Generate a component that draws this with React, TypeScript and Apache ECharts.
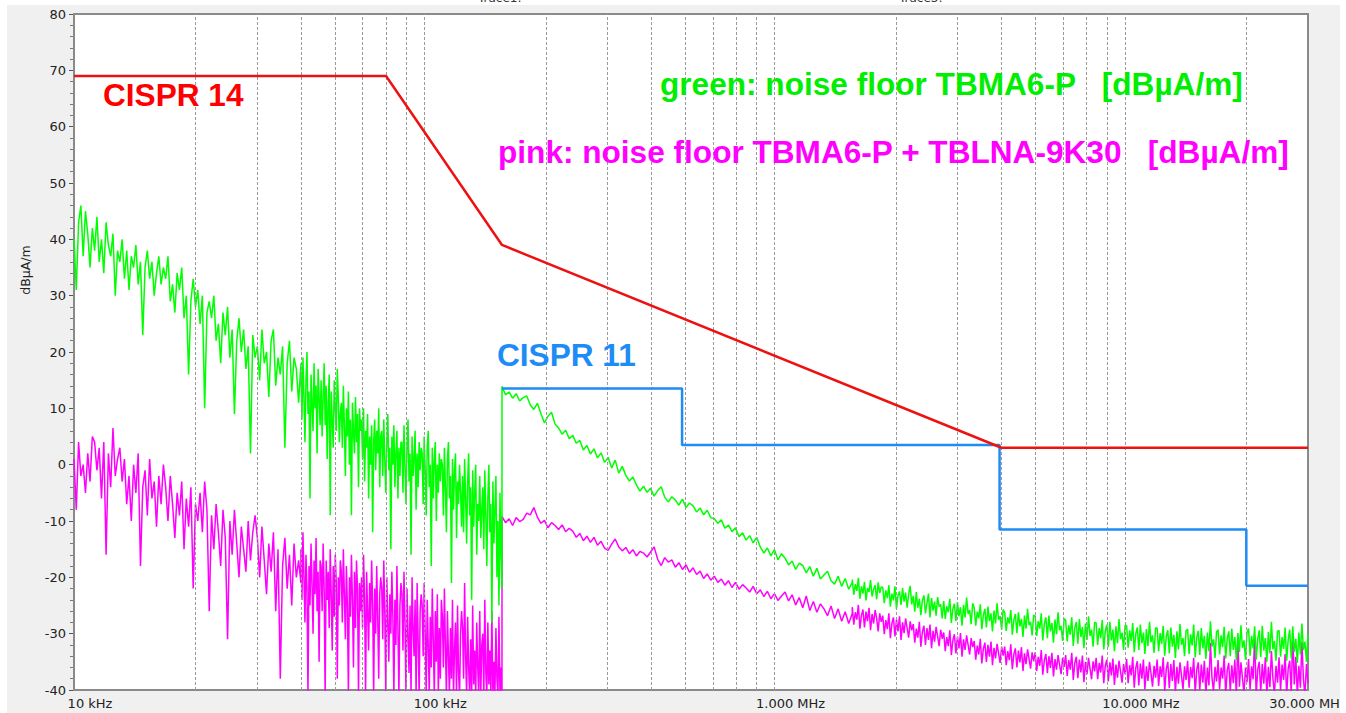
import React, { useEffect, useRef } from "react";
import * as echarts from "echarts";

// Analyzer sweeps (start/stop in Hz); the number of points is the length of each value list
const SWEEP_A1 = { startHz: 9000, stopHz: 40000 };
const SWEEP_A2 = { startHz: 40000, stopHz: 150000 };
const SWEEP_B1 = { startHz: 150000, stopHz: 1500000 };
const SWEEP_B2 = { startHz: 1500000, stopHz: 30000000 };

// green: noise floor TBMA6-P [dBµA/m]
const GREEN_A1 = [
  40, 31, 43, 46, 37, 45, 41, 35, 42, 38, 44, 36, 40, 34, 43, 39, 37, 41, 30, 38,
  36, 40, 33, 38, 31, 37, 35, 39, 32, 36, 23, 35, 38, 33, 36, 30, 34, 37, 32, 35,
  33, 37, 29, 32, 27, 34, 31, 35, 26, 30, 16, 29, 33, 28, 31, 25, 30, 10, 27, 29,
  26, 30, 22, 25, 18, 27, 23, 28, 19, 24, 9, 22, 26, 20, 24, 17, 21, 2, 23, 19,
  21, 15, 24, 18, 20, 12, 22, 24, 14, 19, 16, 21, 3, 18, 22, 13, 19, 17, 11, 18,
];
const GREEN_A2 = [
  17, 8, 19, 12, 4, 15, 20, 9, 13, -6, 16, 11, 6, 18, 10, 14, 2, 17, 12, 7,
  15, 5, 12, 18, 7, 14, 1, 11, 16, -9, 13, 8, 3, 15, 10, 6, 17, 12, 4, 9,
  11, 3, 14, 7, -2, 10, 5, 13, 0, 8, -9, 11, 6, 2, 12, 4, 9, -4, 10, 6,
  8, 1, 10, -3, 6, 3, 9, -6, 5, 0, 7, -12, 4, 8, -1, 6, 2, 10, -4, 5,
  6, -2, 8, 1, -5, 4, 9, -1, 3, -15, 5, 0, 7, -4, 2, 6, -6, 3, -2, 4,
  4, -5, 7, 0, -7, 3, 8, -3, 2, -16, 5, -2, 1, 6, -8, 2, -4, 4, -1, 3,
  2, -7, 5, -1, -9, 3, 6, -4, 0, -18, 3, -6, 1, 4, -10, 0, -5, 2, -3, 1,
  0, -9, 3, -4, -12, 1, 4, -6, -2, -21, 1, -8, -1, 2, -13, -3, -7, 0, -5, -11,
  -2, -12, 1, -6, -14, -3, 2, -9, -4, -24, -1, -11, -5, 0, -16, -7, -10, -2, -13, -8,
  -4, -15, -1, -9, -18, -6, 0, -12, -7, -28, -3, -14, -8, -2, -20, -10, -25, -5, -16, -22,
];
const GREEN_B1 = [
  13.9, 12.4, 12.9, 11.8, 12.6, 11.3, 11.9, 12.2, 10.6, 9.8, 10.9, 9.1, 7.4, 8.6, 9.3, 7.2, 6.5, 5.4, 6.1, 4.6,
  5.2, 3.8, 4.3, 2.6, 3.4, 1.9, 2.8, 1.2, 2.1, 0.4, 1.3, -0.6, 0.8, -1.5, -0.3, -1.9, -2.9, -2.2, -3.6, -4.7,
  -3.8, -4.9, -4.2, -5.6, -4.6, -3.9, -5.8, -6.6, -5.7, -6.3, -7.2, -6.1, -7.6, -6.8, -7.3, -8.4, -7.7, -8.9, -8.1, -9.4,
  -9.6, -10.4, -9.8, -11.3, -10.7, -11.9, -11.2, -12.8, -12.1, -13.4, -12.6, -13.9, -12.9, -14.6, -15.7, -14.8, -16.2, -15.1, -16.9, -15.8,
  -16.6, -17.8, -17.1, -18.6, -17.5, -17.9, -19.2, -18.1, -19.8, -18.4, -20.3, -19.6, -18.9, -20.6, -21.2, -19.8, -21.6, -20.2, -22.1, -20.9,
];
const GREEN_B2 = [
  -20.4, -23.1, -21.2, -22.4, -20.1, -23.8, -21.6, -22.9, -20.8, -24.1, -21.9, -22.6, -20.5, -23.4, -22.1, -21.4, -23.9, -20.9, -22.8, -21.7,
  -21.8, -24.6, -22.3, -23.7, -21.4, -25.2, -22.9, -24.1, -21.6, -25.6, -23.2, -22.5, -24.9, -21.9, -24.3, -22.7, -25.4, -23, -21.5, -24.8,
  -23.3, -26.1, -22.6, -25.4, -23.8, -26.7, -24.1, -23.2, -26.4, -24.6, -22.9, -27.1, -23.7, -25.9, -24.3, -26.8, -23.5, -25.2, -24.8, -27.3,
  -24.2, -27.4, -25.1, -26.2, -23.8, -28.1, -25.6, -24.7, -27.8, -24.4, -26.9, -25.3, -28.6, -24.9, -27.1, -23.6, -26.5, -25.8, -28.3, -24.6,
  -25.4, -28.6, -26.1, -27.3, -24.8, -29.2, -26.7, -25.6, -28.9, -25.2, -27.8, -26.4, -29.6, -25.9, -28.2, -24.6, -27.5, -26.9, -29.3, -25.7,
  -26.3, -29.5, -27.1, -28.2, -25.8, -30.2, -27.6, -26.5, -29.9, -26.2, -28.7, -27.4, -30.6, -26.8, -29.1, -25.6, -28.5, -27.9, -30.3, -26.7,
  -26.9, -30.4, -27.8, -29.1, -26.4, -31.2, -28.3, -27.1, -30.8, -26.8, -29.6, -28.1, -31.6, -27.5, -30.1, -26.2, -29.4, -28.6, -31.3, -27.3,
  -27.6, -31.4, -28.5, -30.2, -27.1, -32.2, -29, -27.9, -31.8, -27.4, -30.6, -28.8, -32.6, -28.2, -31.1, -26.9, -30.4, -29.3, -32.3, -28,
  -28.1, -32, -29, -30.8, -27.6, -32.8, -29.5, -28.4, -32.4, -27.9, -31.2, -29.3, -33.1, -28.7, -31.7, -27.4, -31, -29.8, -32.9, -28.5,
  -28.6, -32.5, -29.4, -31.3, -28.1, -33.3, -30, -28.9, -32.9, -28.4, -31.7, -29.8, -33.6, -29.2, -32.2, -27.9, -31.5, -30.3, -33.4, -29,
  -29, -33.1, -29.9, -31.8, -28.6, -33.9, -30.5, -29.4, -33.5, -28.9, -32.3, -30.2, -34.3, -29.6, -32.8, -28.3, -32, -30.8, -34, -29.5,
  -29.2, -33.6, -30.1, -32.1, -28.4, -34.2, -30.7, -29.5, -33.8, -29, -32.6, -30.4, -34.5, -29.8, -33.1, -27.8, -32.3, -31, -34.3, -29.7,
  -29.3, -33.7, -30.3, -32.4, -28.8, -34.4, -30.9, -29.6, -34, -29.1, -32.9, -30.6, -34.7, -29.9, -33.3, -28.5, -32.5, -31.2, -34.6, -29.8,
  -29.1, -33.9, -30.4, -32.6, -28.7, -34.6, -31, -29.4, -34.2, -28.6, -33, -30.8, -35, -29.7, -33.5, -27.9, -32.8, -31.3, -34.8, -29.6,
  -29.4, -34.1, -30.6, -32.7, -28.9, -34.8, -31.1, -29.3, -34.4, -28.7, -33.2, -30.9, -35.2, -29.8, -33.7, -28.2, -32.9, -31.4, -35, -30.1,
];

// pink: noise floor TBMA6-P + TBLNA-9K30 [dBµA/m]
const PINK_A1 = [
  1, -8, 4, -2, 0, -5, 2, -3, 5, 4, -1, 3, -6, 4, -16, 2, -4, 6.5, -2, 1,
  3, -3, 1, -7, -2, -10, 0, -5, 2, -18, -4, -1, -9, 1, -6, -3, -11, -2, -7, 0,
  -4, -10, -2, -7, -13, -5, -9, -3, -15, -6, -11, -4, -22, -7, -10, -5, -12, -3, -8, -26,
  -9, -15, -7, -12, -18, -8, -13, -31, -10, -16, -8, -14, -20, -11, -15, -19, -10, -17, -12, -9,
  -13, -20, -11, -17, -23, -14, -19, -12, -26, -15, -38, -18, -13, -22, -16, -25, -14, -20, -17, -21,
];
const PINK_A2 = [
  -15, -24, -12, -20, -28, -16, -22, -41, -18, -25, -14, -21, -30, -17, -23, -13, -26, -19, -35, -17,
  -18, -26, -14, -22, -41, -17, -24, -19, -29, -15, -23, -33, -18, -27, -16, -21, -38, -20, -25, -17,
  -19, -28, -15, -23, -31, -18, -25, -41, -20, -27, -16, -24, -36, -19, -29, -17, -22, -41, -21, -26,
  -20, -29, -16, -24, -41, -19, -26, -33, -21, -28, -17, -25, -41, -22, -30, -18, -27, -38, -23, -20,
  -22, -31, -17, -26, -41, -20, -28, -35, -23, -30, -19, -27, -41, -24, -32, -18, -29, -41, -25, -21,
  -23, -33, -19, -28, -41, -22, -30, -37, -25, -41, -20, -29, -34, -24, -41, -21, -31, -41, -26, -23,
  -25, -34, -21, -30, -41, -24, -32, -41, -27, -36, -22, -31, -41, -26, -35, -23, -41, -29, -38, -24,
  -27, -36, -22, -32, -41, -26, -34, -41, -29, -38, -24, -41, -33, -28, -41, -25, -37, -41, -30, -26,
  -29, -38, -21, -34, -41, -27, -36, -41, -31, -41, -25, -39, -33, -41, -28, -36, -41, -26, -41, -32,
  -30, -41, -24, -37, -41, -28, -39, -33, -41, -26, -41, -35, -41, -29, -38, -41, -27, -41, -36, -41,
];
const PINK_B1 = [
  -9.2, -10.3, -9.6, -10.8, -9.4, -10.1, -9.7, -8.6, -8.9, -7.6, -9.3, -10.4, -9.9, -11.2, -10.3, -10.8, -11.5, -10.7, -11.9, -11.3,
  -11.8, -12.9, -12.2, -13.5, -12.7, -13.8, -12.9, -14.3, -13.6, -14.8, -15.2, -14.1, -13.2, -14.6, -15.3, -14.7, -15.8, -15.1, -16.2, -15.4,
  -15.7, -16.4, -15.5, -14.6, -16.8, -17.9, -16.5, -17.3, -16.9, -18.2, -17.4, -18.6, -17.8, -19.1, -18.3, -19.5, -18.9, -20.2, -19.4, -20.5,
  -19.8, -20.9, -20.3, -21.4, -20.6, -21.8, -20.9, -22.1, -21.3, -21.9, -22.6, -21.6, -22.9, -22.2, -23.4, -22.5, -23.8, -22.9, -24.1, -23.3,
  -22.6, -24.2, -23.1, -24.9, -23.6, -25.4, -23.3, -25.9, -24.3, -26.2, -24.7, -25.6, -26.8, -25.1, -27.3, -25.6, -27.8, -26.1, -28.2, -26.4,
];
const PINK_B2 = [
  -25.3, -28.4, -26.2, -27.5, -24.9, -29.1, -26.8, -25.7, -28.9, -26.1, -27.8, -25.4, -29.4, -26.5, -28.2, -25.8, -27.3, -29.6, -26.4, -27.9,
  -26.8, -30.1, -27.6, -29.2, -26.4, -30.8, -28.2, -27.1, -30.5, -27.5, -29.6, -26.9, -31.1, -28, -29.9, -27.3, -29, -30.7, -27.8, -29.4,
  -28.3, -31.6, -29.1, -30.7, -27.9, -32.3, -29.7, -28.6, -32, -29, -31.1, -28.4, -32.6, -29.5, -31.4, -28.8, -30.5, -32.2, -29.3, -30.9,
  -29.8, -33.1, -30.6, -32.2, -29.4, -33.8, -31.2, -30.1, -33.5, -30.5, -32.6, -29.9, -34.1, -31, -32.9, -30.3, -32, -33.7, -30.8, -32.4,
  -31.3, -34.6, -32.1, -33.7, -30.9, -35.3, -32.7, -31.6, -35, -32, -34.1, -31.4, -35.6, -32.5, -34.4, -31.8, -33.5, -35.2, -32.3, -33.9,
  -32.3, -35.6, -33.1, -34.7, -31.9, -36.3, -33.7, -32.6, -36, -33, -35.1, -32.4, -36.6, -33.5, -35.4, -32.8, -34.5, -36.2, -33.3, -34.9,
  -33.3, -36.6, -34.1, -35.7, -32.9, -37.3, -34.7, -33.6, -37, -34, -36.1, -33.4, -37.6, -34.5, -36.4, -33.8, -35.5, -37.2, -34.3, -35.9,
  -33.8, -37.5, -34.7, -36.4, -33.4, -38.2, -35.2, -34.1, -37.9, -34.6, -36.9, -33.9, -38.6, -35, -37.2, -34.3, -36.2, -38.1, -34.9, -36.7,
  -34.3, -38.1, -35.2, -36.9, -33.9, -38.8, -35.7, -34.6, -38.5, -35.1, -37.4, -34.4, -39.1, -35.5, -37.8, -34.8, -36.7, -38.7, -35.4, -37.2,
  -34.5, -38.8, -35.6, -37.4, -34.1, -39.6, -36.1, -34.9, -39.2, -35.3, -38, -34.6, -39.9, -35.8, -38.4, -35, -37.1, -39.4, -35.7, -37.8,
  -34.6, -39.3, -35.8, -37.7, -34.2, -40.2, -36.3, -35, -39.7, -35.4, -38.4, -34.7, -40.5, -35.9, -38.9, -35.1, -37.5, -39.9, -35.8, -38.2,
  -34.8, -39.6, -35.9, -37.9, -34.3, -40.6, -36.4, -35.1, -40, -35.5, -38.7, -34.8, -40.8, -36, -39.2, -31.6, -37.8, -40.3, -35.9, -38.5,
  -34.7, -39.8, -36, -38, -33.9, -40.9, -36.5, -35.2, -40.2, -35.6, -38.8, -34.6, -41, -31.2, -39.4, -35.1, -37.9, -40.6, -36, -38.6,
  -34.5, -39.9, -35.8, -38.1, -30.4, -41, -36.4, -35, -40.4, -35.4, -38.9, -34.2, -41, -35.9, -39.5, -33.1, -38, -40.8, -35.7, -38.7,
  -34.2, -40.1, -35.5, -38.2, -33.6, -41, -36.2, -34.8, -40.6, -30.1, -39, -34.1, -41, -35.7, -39.6, -31.5, -38.1, -41, -35.4, -38.8,
];

// Limit lines
const CISPR14_FREQ = [9000, 70000, 150000, 4000000, 30000000];
const CISPR14_LIMIT = [69, 69, 39, 3, 3];
const CISPR11_FREQ = [150000, 490000, 490000, 3950000, 3950000, 20000000, 20000000, 30000000];
const CISPR11_LIMIT = [13.5, 13.5, 3.5, 3.5, -11.5, -11.5, -21.5, -21.5];

// Axis labels / grid
const X_TICK_FREQ = [10000, 100000, 1000000, 10000000, 30000000];
const X_TICK_LABELS = ["10 kHz", "100 kHz", "1.000 MHz", "10.000 MHz", "30.000 MHz"];
const MINOR_GRID_FREQ = [
  20000, 30000, 40000, 50000, 60000, 70000, 80000, 90000,
  200000, 300000, 400000, 500000, 600000, 700000, 800000, 900000,
  2000000, 3000000, 4000000, 5000000, 6000000, 7000000, 8000000, 9000000,
  20000000,
];

function sweepFreqs(start: number, stop: number, n: number) {
  const out: number[] = [];
  const r = Math.log10(stop / start);
  for (let i = 0; i < n; i++) out.push(start * Math.pow(10, (r * i) / (n - 1)));
  return out;
}

function zipTrace(sweep: { startHz: number; stopHz: number }, vals: number[]) {
  const f = sweepFreqs(sweep.startHz, sweep.stopHz, vals.length);
  return vals.map((v, i) => [f[i], v]);
}

export default function App() {
  const ref = useRef<HTMLDivElement>(null);
  useEffect(() => {
    if (!ref.current) return;
    const chart = echarts.init(ref.current, null, { renderer: "svg" });
    const green = [
      ...zipTrace(SWEEP_A1, GREEN_A1),
      ...zipTrace(SWEEP_A2, GREEN_A2),
      ...zipTrace(SWEEP_B1, GREEN_B1),
      ...zipTrace(SWEEP_B2, GREEN_B2),
    ];
    const pink = [
      ...zipTrace(SWEEP_A1, PINK_A1),
      ...zipTrace(SWEEP_A2, PINK_A2),
      ...zipTrace(SWEEP_B1, PINK_B1),
      ...zipTrace(SWEEP_B2, PINK_B2),
    ];
    const c14 = CISPR14_FREQ.map((f, i) => [f, CISPR14_LIMIT[i]]);
    const c11 = CISPR11_FREQ.map((f, i) => [f, CISPR11_LIMIT[i]]);
    const tickFont = "DejaVu Sans, Verdana, sans-serif";
    const bigFont = "bold 31.6px 'Liberation Sans', Arial, sans-serif";

    chart.setOption({
      animation: false,
      grid: {
        left: 74,
        top: 14,
        right: 32,
        bottom: 23,
        outerBoundsMode: "none",
        containLabel: false,
        show: true,
        backgroundColor: "#ffffff",
        borderColor: "#8a8a8a",
        borderWidth: 2,
        z: 1,
      },
      xAxis: {
        type: "log",
        logBase: 10,
        min: 9000,
        max: 30000000,
        axisLine: { show: true, lineStyle: { color: "#555", width: 2 } },
        axisTick: { show: true, length: 4, lineStyle: { color: "#555" } },
        axisLabel: {
          interval: 0,
          showMinLabel: true,
          showMaxLabel: true,
          color: "#222",
          fontFamily: tickFont,
          fontSize: 13,
          margin: 7,
          formatter: (v: number) => {
            const idx = X_TICK_FREQ.findIndex((f) => Math.abs(f - v) / f < 1e-3);
            return idx >= 0 ? X_TICK_LABELS[idx] : "";
          },
        },
        splitLine: { show: true, lineStyle: { color: "#9c9c9c", width: 1.5 } },
      },
      yAxis: {
        type: "value",
        min: -40,
        max: 80,
        interval: 10,
        axisLine: { show: true, lineStyle: { color: "#555", width: 2 } },
        axisTick: { show: true, length: 5, lineStyle: { color: "#555" } },
        minorTick: { show: true, splitNumber: 5, length: 4, lineStyle: { color: "#777" } },
        axisLabel: { color: "#222", fontFamily: tickFont, fontSize: 13, margin: 8 },
        splitLine: { show: true, lineStyle: { color: "#bdbdbd", width: 1.5 } },
      },
      series: [
        {
          name: "minorGrid",
          type: "line",
          data: [],
          silent: true,
          z: 1,
          markLine: {
            silent: true,
            symbol: ["none", "none"],
            label: { show: false },
            lineStyle: { type: [3, 2], color: "#9a9a9a", width: 1 },
            emphasis: { disabled: true },
            data: MINOR_GRID_FREQ.map((f) => ({ xAxis: f })),
          },
        },
        {
          name: "pink",
          type: "line",
          data: pink,
          showSymbol: false,
          symbol: "none",
          z: 3,
          lineStyle: { color: "#ff00ff", width: 1.5 },
        },
        {
          name: "green",
          type: "line",
          data: green,
          showSymbol: false,
          symbol: "none",
          z: 4,
          lineStyle: { color: "#00ff00", width: 1.5 },
        },
        {
          name: "CISPR 11",
          type: "line",
          data: c11,
          symbol: "none",
          z: 5,
          lineStyle: { color: "#1e8cf5", width: 2.5 },
        },
        {
          name: "CISPR 14",
          type: "line",
          data: c14,
          symbol: "none",
          z: 6,
          lineStyle: { color: "#ee1111", width: 2.5 },
        },
      ],
      graphic: [
        {
          type: "rect",
          z: -10,
          silent: true,
          shape: { x: 7, y: 5, width: 1340, height: 710 },
          style: { fill: "#f0f0f0" },
        },
        {
          type: "text",
          z: 10,
          x: 103,
          y: 95,
          style: { text: "CISPR 14", font: bigFont, fill: "#ff0000", verticalAlign: "middle" },
        },
        {
          type: "text",
          z: 10,
          x: 660,
          y: 84,
          style: {
            text: "green: noise floor TBMA6-P   [dBµA/m]",
            font: bigFont,
            fill: "#00ee00",
            verticalAlign: "middle",
          },
        },
        {
          type: "text",
          z: 10,
          x: 498,
          y: 152,
          style: {
            text: "pink: noise floor TBMA6-P + TBLNA-9K30   [dBµA/m]",
            font: bigFont,
            fill: "#ff00ff",
            verticalAlign: "middle",
          },
        },
        {
          type: "text",
          z: 10,
          x: 497,
          y: 355,
          style: { text: "CISPR 11", font: bigFont, fill: "#1e8cf5", verticalAlign: "middle" },
        },
        {
          type: "text",
          z: 10,
          x: 25,
          y: 270,
          rotation: Math.PI / 2,
          style: {
            text: "dBµA/m",
            font: "12.5px DejaVu Sans, Verdana, sans-serif",
            fill: "#222",
            align: "center",
            verticalAlign: "middle",
          },
        },
        {
          type: "text",
          z: 10,
          x: 478,
          y: -8,
          style: { text: "Trace1:", font: "12px DejaVu Sans, sans-serif", fill: "#333" },
        },
        {
          type: "text",
          z: 10,
          x: 899,
          y: -8,
          style: { text: "Trace3:", font: "12px DejaVu Sans, sans-serif", fill: "#333" },
        },
      ],
    });
    return () => chart.dispose();
  }, []);
  return (
    <div style={{ position: "fixed", left: 0, top: 0, width: 1346, height: 713, background: "#fff" }}>
      <div ref={ref} style={{ width: 1340, height: 713 }} />
    </div>
  );
}
